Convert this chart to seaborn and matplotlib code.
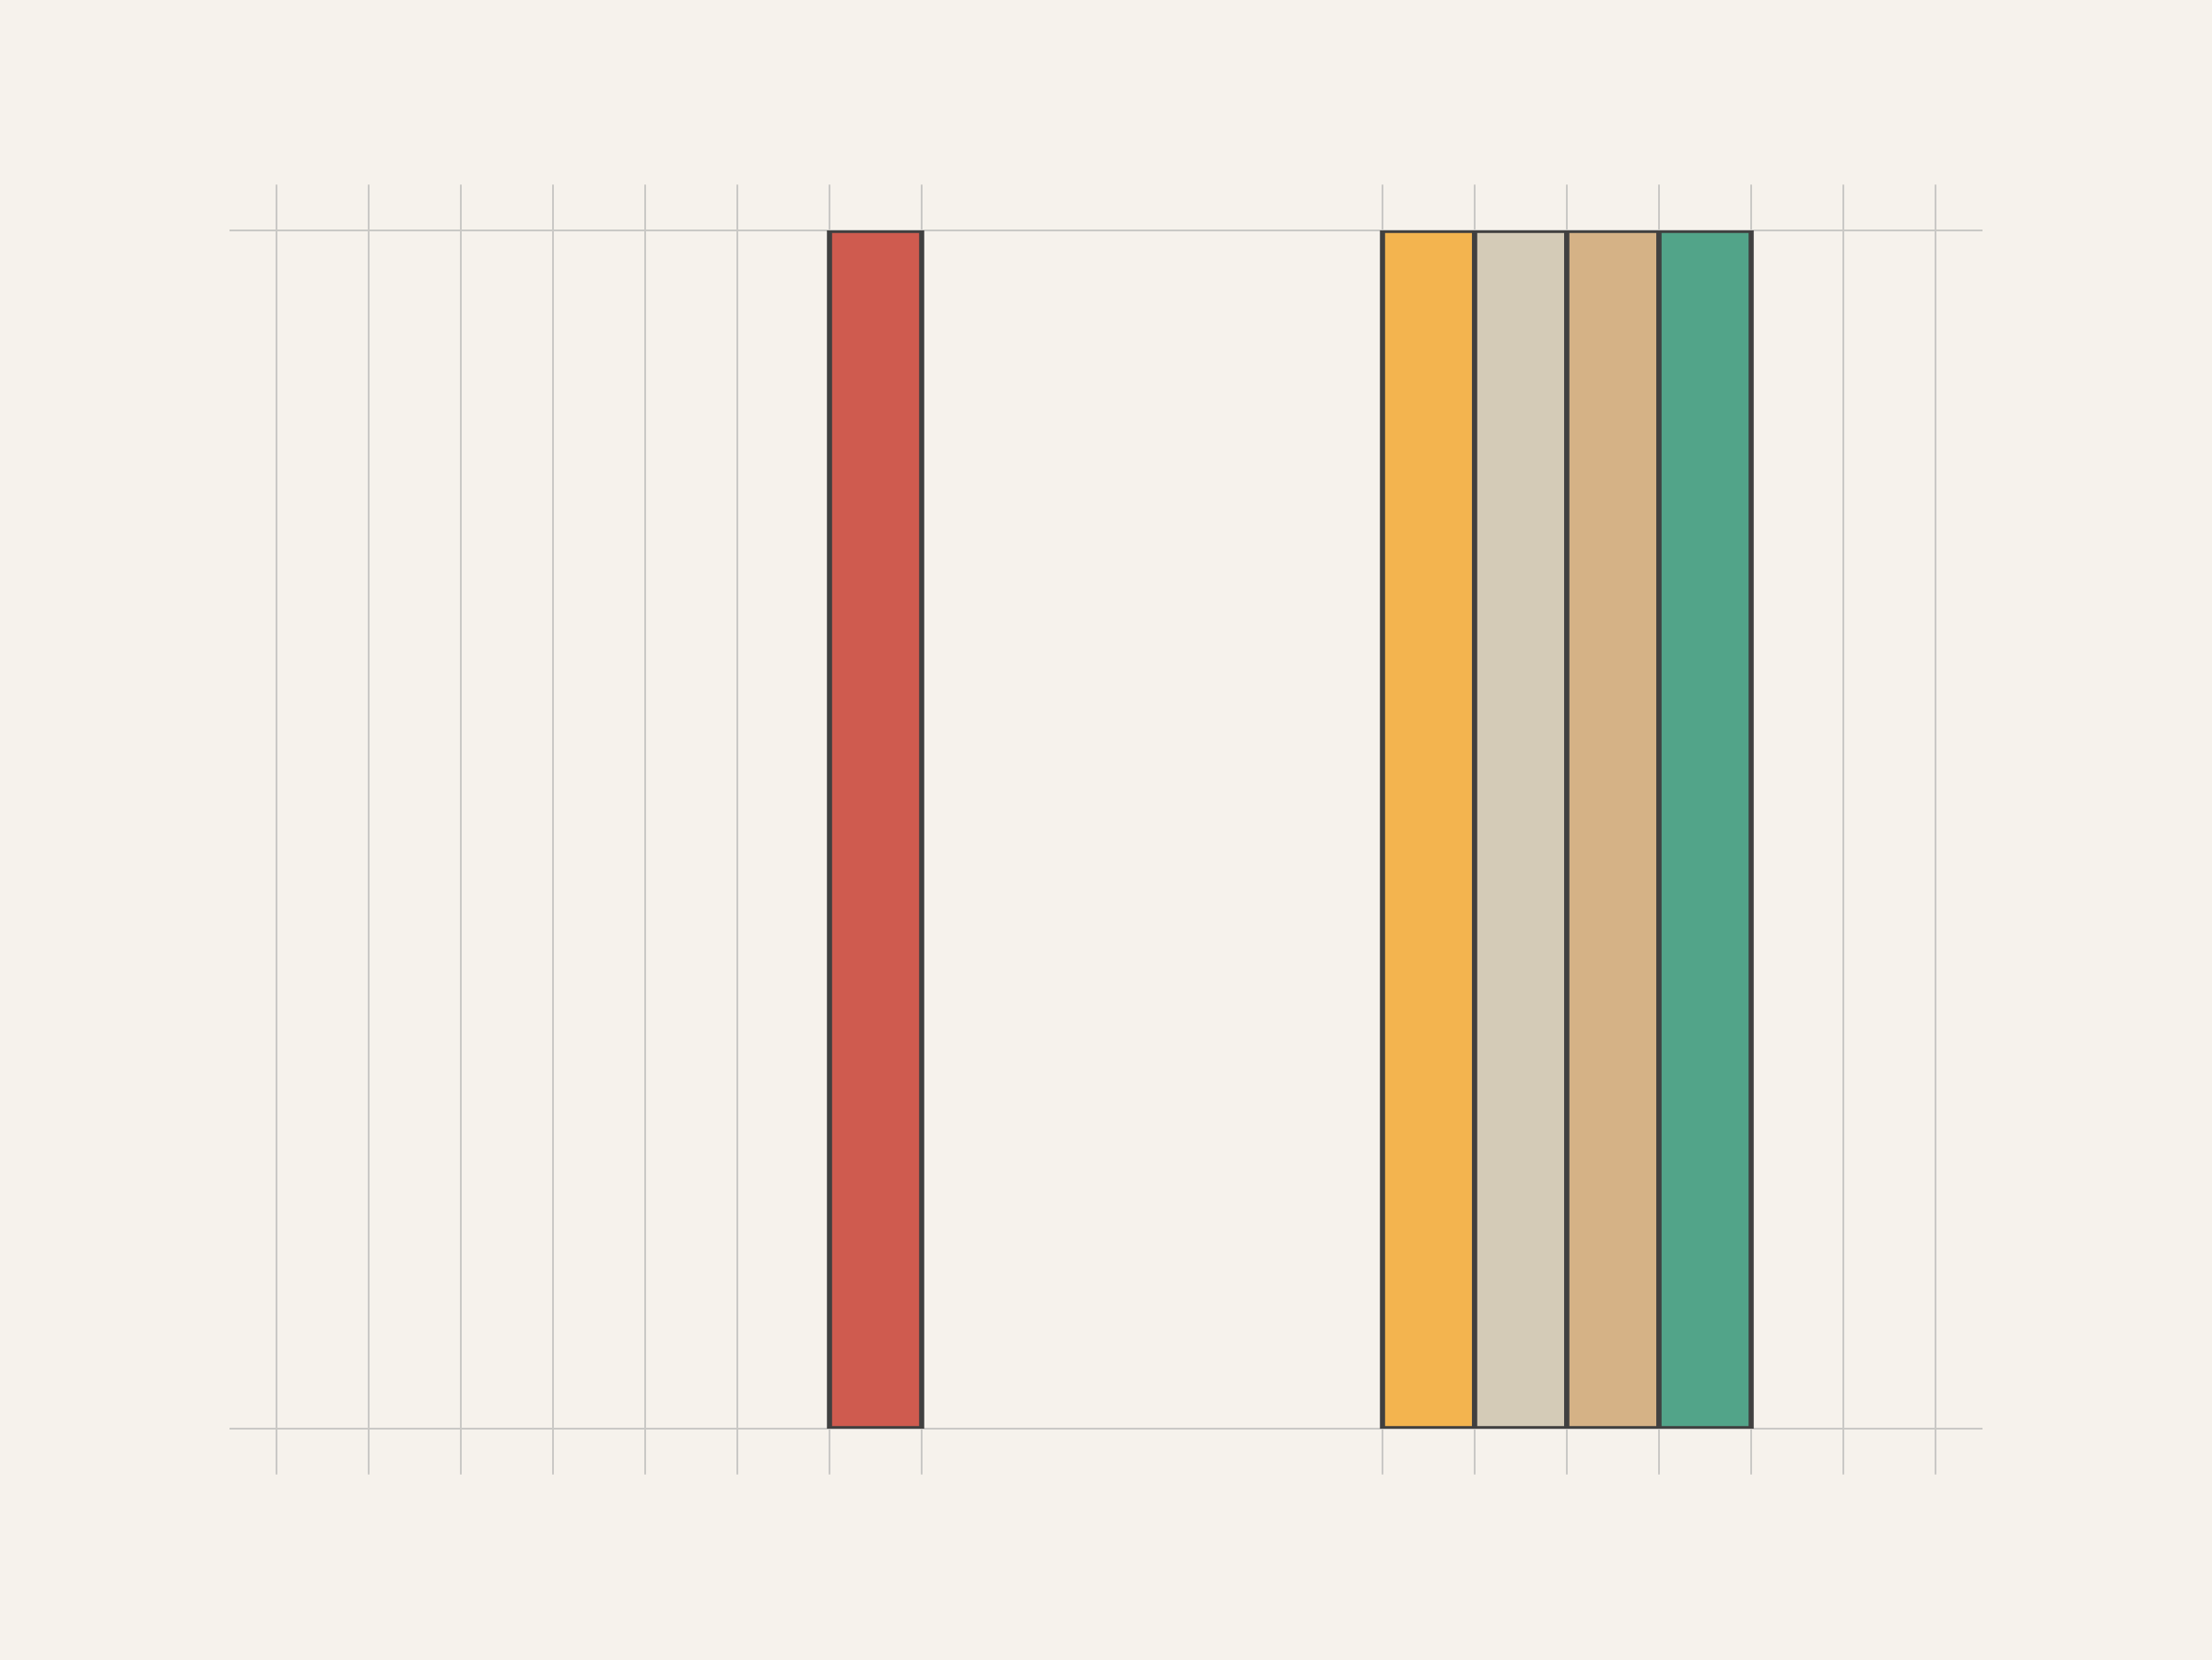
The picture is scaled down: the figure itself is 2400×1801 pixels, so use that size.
import seaborn as sns
import matplotlib.pyplot as plt
import pandas as pd

# bars: left edge of each slot and its height
slot_start = [6, 12, 13, 14, 15]
heights = [1, 1, 1, 1, 1]
names = ['a', 'b', 'c', 'd', 'e']
colors = ['#CF5B4F', '#F3B44F', '#D4CBB7', '#D5B286', '#52A489']

# slot boundaries that carry a grid line
grid_at = [0, 1, 2, 3, 4, 5, 6, 7, 12, 13, 14, 15, 16, 17, 18]

bg = '#F6F2EC'
sns.set_style('white')

df = pd.DataFrame({'x': [s + 0.5 for s in slot_start], 'h': heights, 'name': names})

fig = plt.figure(figsize=(24, 18.01), dpi=100, facecolor=bg)
ax = fig.add_axes([250 / 2400, 251 / 1801, 1900 / 2400, 1300 / 1801])
ax.set_facecolor(bg)

for g in grid_at:
    ax.axvline(g, ymin=-0.038, ymax=1.038, color='#C9C8C5', lw=1.4,
               clip_on=False, zorder=0)

sns.barplot(data=df, x='x', y='h', hue='name', palette=colors,
            native_scale=True, width=1, dodge=False, legend=False,
            edgecolor='#404040', linewidth=4, saturation=1, ax=ax, zorder=3)

ax.set_xlim(-0.5, 18.5)
ax.set_ylim(0, 1)
for side in ['left', 'right']:
    ax.spines[side].set_visible(False)
for side in ['top', 'bottom']:
    ax.spines[side].set_color('#C9C8C5')
    ax.spines[side].set_linewidth(1.4)
    ax.spines[side].set_zorder(1)
ax.set_xticks([])
ax.set_yticks([])
ax.set_xlabel('')
ax.set_ylabel('')

fig.savefig('out.png', dpi=100, facecolor=bg)
